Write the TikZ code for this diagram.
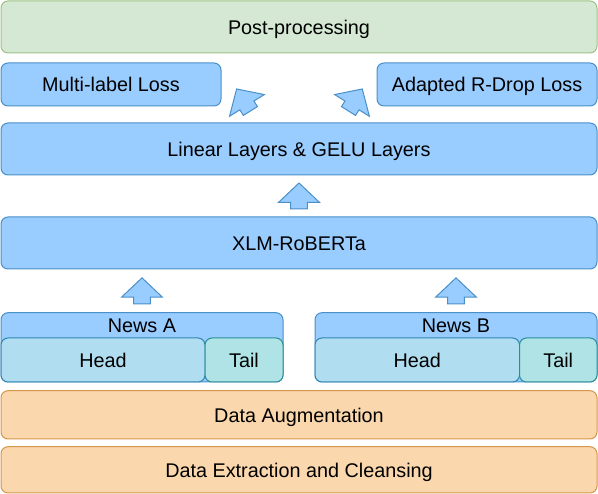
\documentclass[tikz,border=0pt]{standalone}
\usepackage{fontspec}
\setmainfont{Liberation Sans}
\usetikzlibrary{calc}
\definecolor{bfill}{HTML}{99CCFF}
\definecolor{bstroke}{HTML}{4A90C8}
\definecolor{hfill}{HTML}{B1DDF0}
\definecolor{hstroke}{HTML}{2F86B4}
\definecolor{tfill}{HTML}{B0E3E6}
\definecolor{tstroke}{HTML}{2A8E96}
\definecolor{gfill}{HTML}{D5E8D4}
\definecolor{gstroke}{HTML}{9DC287}
\definecolor{ofill}{HTML}{FAD7AC}
\definecolor{ostroke}{HTML}{D6964A}
\begin{document}
\begin{tikzpicture}[x=1pt,y=-1pt,font=\fontsize{19.8}{22}\selectfont,
  box/.style={draw, rounded corners=7pt, line width=1pt, inner sep=0pt, anchor=center, text height=14.6pt, text depth=0pt},
  bluebox/.style={box, fill=bfill, draw=bstroke},
  headbox/.style={box, fill=hfill, draw=hstroke},
  tailbox/.style={box, fill=tfill, draw=tstroke},
  greenbox/.style={box, fill=gfill, draw=gstroke},
  orangebox/.style={box, fill=ofill, draw=ostroke},
  lbl/.style={inner sep=0pt, text height=14.6pt, text depth=0pt},
  arrowstyle/.style={fill=bfill, draw=bstroke, line width=1pt, line join=miter},
  blockarrow/.pic={\draw[arrowstyle] (0,-13) -- (20.5,6.4) -- (8.3,6.4) -- (8.3,13) -- (-8.3,13) -- (-8.3,6.4) -- (-20.5,6.4) -- cycle;}]
\useasboundingbox (0,0) rectangle (598,494);

\node[greenbox, minimum width=596pt, minimum height=52pt] (post) at (299,27) {Post-processing};
\node[bluebox, minimum width=220pt, minimum height=43pt] (ml) at (111,84.5) {Multi-label Loss};
\node[bluebox, minimum width=220pt, minimum height=43pt] (rd) at (487,84.5) {Adapted R-Drop Loss};
\node[bluebox, minimum width=596pt, minimum height=52pt] (lin) at (299,149) {Linear Layers \& GELU Layers};
\node[bluebox, minimum width=596pt, minimum height=52pt] (xlm) at (299,243) {XLM-RoBERTa};

\node[bluebox, minimum width=282pt, minimum height=69.3pt] (newsA) at (142,347.35) {};
\node[lbl] (newsAlbl) at (142,325.6) {News A};
\node[headbox, minimum width=204pt, minimum height=44pt] (headA) at (103,360) {Head};
\node[tailbox, minimum width=78pt, minimum height=44pt] (tailA) at (244,360) {Tail};

\node[bluebox, minimum width=282pt, minimum height=69.3pt] (newsB) at (456,347.35) {};
\node[lbl] (newsBlbl) at (456,325.6) {News B};
\node[headbox, minimum width=204.5pt, minimum height=44pt] (headB) at (417.25,360) {Head};
\node[tailbox, minimum width=77.5pt, minimum height=44pt] (tailB) at (558.25,360) {Tail};

\node[orangebox, minimum width=596pt, minimum height=48.3pt] (aug) at (299,414.85) {Data Augmentation};
\node[orangebox, minimum width=596pt, minimum height=46.3pt] (ext) at (299,469.85) {Data Extraction and Cleansing};

\pic at ($(lin.south)!0.5!(xlm.north)$) {blockarrow};
\pic at ($(xlm.south -| newsA.center)!0.5!(newsA.north)$) {blockarrow};
\pic at ($(xlm.south -| newsB.center)!0.5!(newsB.north)$) {blockarrow};
\pic[rotate=32] at (243.5,100) {blockarrow};
\pic[rotate=-32] at (355.4,100) {blockarrow};
\end{tikzpicture}
\end{document}
